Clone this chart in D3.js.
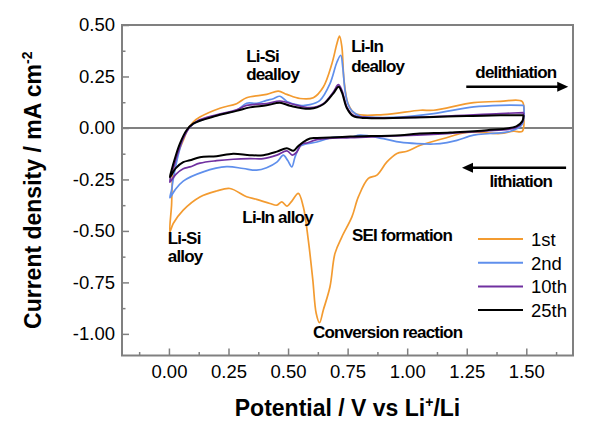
<!DOCTYPE html>
<html><head><meta charset="utf-8">
<script src="https://cdn.jsdelivr.net/npm/d3@7"></script>
<style>
html,body{margin:0;padding:0;background:#fff;}
svg{display:block;font-family:"Liberation Sans",Arial,Helvetica,sans-serif;}
</style></head>
<body><svg id="chart" width="607" height="435"></svg>
<script>
// ---- data: [potential (V), current density (mA cm^-2)] ----
const cycleNames = ["1st", "2nd", "10th", "25th"];
const cycleColors = ["#F39B30", "#5F8FEC", "#7030A0", "#000000"];

const cycle1 = [
  [1.489,0.062],[1.483,-0.016],[1.447,-0.016],[1.391,-0.027],[1.251,-0.022],[1.153,-0.051],
  [1.055,-0.084],[0.999,-0.113],[0.957,-0.124],[0.915,-0.165],[0.873,-0.229],[0.837,-0.245],
  [0.795,-0.335],[0.768,-0.432],[0.726,-0.529],[0.697,-0.609],[0.676,-0.771],[0.648,-0.884],
  [0.632,-0.946],[0.618,-0.900],[0.604,-0.739],[0.585,-0.545],[0.564,-0.383],[0.543,-0.318],
  [0.516,-0.355],[0.495,-0.380],[0.474,-0.359],[0.453,-0.375],[0.424,-0.367],[0.368,-0.347],
  [0.326,-0.334],[0.256,-0.294],[0.200,-0.306],[0.130,-0.335],[0.060,-0.399],[0.018,-0.464],
  [0.004,-0.504],
  [0.011,-0.375],[0.018,-0.205],[0.039,-0.120],[0.060,-0.060],[0.081,-0.003],[0.102,0.029],
  [0.130,0.053],[0.214,0.096],[0.284,0.118],[0.326,0.147],[0.410,0.163],[0.459,0.179],
  [0.495,0.163],[0.550,0.143],[0.606,0.147],[0.648,0.199],[0.684,0.312],[0.705,0.409],
  [0.716,0.446],[0.726,0.393],[0.735,0.231],[0.753,0.115],[0.782,0.070],[0.900,0.065],
  [1.055,0.086],[1.111,0.086],[1.279,0.123],[1.391,0.129],[1.482,0.129],[1.489,0.062]
];

const cycle2 = [
  [1.489,0.110],[1.483,0.018],[1.433,-0.016],[1.349,-0.027],[1.279,-0.035],[1.209,-0.060],
  [1.167,-0.071],[1.111,-0.078],[1.041,-0.076],[0.971,-0.069],[0.900,-0.052],[0.803,-0.035],
  [0.761,-0.045],[0.690,-0.045],[0.621,-0.068],[0.571,-0.079],[0.550,-0.089],[0.529,-0.142],
  [0.516,-0.189],[0.498,-0.157],[0.480,-0.132],[0.453,-0.166],[0.410,-0.193],[0.368,-0.205],
  [0.312,-0.197],[0.242,-0.188],[0.144,-0.213],[0.060,-0.258],[0.025,-0.302],[0.004,-0.339],
  [0.011,-0.302],[0.018,-0.249],[0.039,-0.132],[0.060,-0.051],[0.088,0.005],[0.116,0.029],
  [0.200,0.062],[0.284,0.086],[0.326,0.120],[0.368,0.120],[0.410,0.134],[0.438,0.142],
  [0.466,0.154],[0.495,0.129],[0.550,0.110],[0.592,0.113],[0.634,0.134],[0.676,0.215],
  [0.705,0.319],[0.721,0.353],[0.730,0.290],[0.739,0.183],[0.752,0.115],[0.768,0.083],
  [0.803,0.057],[0.831,0.053],[0.971,0.053],[1.111,0.070],[1.279,0.102],[1.391,0.110],
  [1.489,0.110]
];

const cycle10 = [
  [1.489,0.074],[1.483,0.028],[1.458,0.002],[1.321,-0.015],[1.181,-0.026],[1.041,-0.035],
  [0.900,-0.041],[0.761,-0.047],[0.621,-0.057],[0.579,-0.073],[0.558,-0.077],[0.537,-0.116],
  [0.519,-0.132],[0.495,-0.111],[0.453,-0.132],[0.396,-0.149],[0.340,-0.149],[0.270,-0.152],
  [0.200,-0.159],[0.130,-0.171],[0.088,-0.189],[0.060,-0.198],[0.029,-0.225],[0.004,-0.263],
  [0.008,-0.234],[0.018,-0.197],[0.039,-0.116],[0.060,-0.051],[0.088,0.005],[0.116,0.032],
  [0.200,0.064],[0.284,0.088],[0.326,0.110],[0.410,0.118],[0.466,0.131],[0.522,0.115],
  [0.592,0.099],[0.648,0.118],[0.690,0.175],[0.711,0.210],[0.726,0.183],[0.747,0.102],
  [0.774,0.062],[0.845,0.050],[1.055,0.053],[1.391,0.070],[1.489,0.074]
];

const cycle25 = [
  [1.489,0.062],[1.483,0.032],[1.458,0.008],[1.335,-0.011],[1.181,-0.022],[1.041,-0.028],
  [0.971,-0.035],[0.761,-0.042],[0.621,-0.049],[0.592,-0.051],[0.564,-0.068],[0.542,-0.089],
  [0.522,-0.111],[0.495,-0.098],[0.453,-0.115],[0.396,-0.132],[0.340,-0.132],[0.270,-0.125],
  [0.200,-0.137],[0.130,-0.142],[0.088,-0.157],[0.060,-0.166],[0.029,-0.195],[0.004,-0.239],
  [0.011,-0.205],[0.025,-0.148],[0.046,-0.076],[0.074,-0.011],[0.102,0.021],[0.200,0.059],
  [0.284,0.083],[0.340,0.100],[0.410,0.110],[0.466,0.122],[0.508,0.108],[0.592,0.093],
  [0.648,0.115],[0.690,0.168],[0.712,0.200],[0.726,0.173],[0.747,0.096],[0.774,0.057],
  [0.831,0.048],[1.111,0.053],[1.391,0.062],[1.489,0.062]
];

const xTicks = [0, 0.25, 0.5, 0.75, 1.0, 1.25, 1.5];
const xMinorTicks = [-0.125, 0.125, 0.375, 0.625, 0.875, 1.125, 1.375, 1.625];
const yTicks = [0.5, 0.25, 0, -0.25, -0.5, -0.75, -1.0];
const yMinorTicks = [0.375, 0.125, -0.125, -0.375, -0.625, -0.875];

// annotation text: [label, x (V), y (mA cm^-2)]
const annotations = [
  ["Li-Si", 0.324, 0.322], ["dealloy", 0.324, 0.235],
  ["Li-In", 0.765, 0.370], ["dealloy", 0.765, 0.273],
  ["delithiation", 1.286, 0.244], ["lithiation", 1.345, -0.285],
  ["Li-Si", -0.005, -0.564], ["alloy", -0.005, -0.651],
  ["Li-In alloy", 0.308, -0.460],
  ["SEI formation", 0.768, -0.548],
  ["Conversion reaction", 0.605, -1.020]
];
// arrows: [x from, x to, y]
const arrows = [[1.248, 1.676, 0.200], [1.667, 1.230, -0.193]];

// ---- chart ----
const svg = d3.select("#chart");
const x = d3.scaleLinear().domain([-0.197, 1.696]).range([122, 573]);
const y = d3.scaleLinear().domain([-1.105, 0.5]).range([355.5, 25]);
const gray = "#808080";
const fmt = d => d.toFixed(2);

// zero line
svg.append("line").attr("x1", x.range()[0]).attr("x2", x.range()[1])
  .attr("y1", y(0)).attr("y2", y(0)).attr("stroke", gray).attr("stroke-width", 2);

// axes
const xAxis = svg.append("g").attr("transform", `translate(0,${y.range()[0]})`)
  .call(d3.axisBottom(x).tickValues(xTicks).tickFormat(fmt).tickSize(-7).tickPadding(9));
const xMinor = svg.append("g").attr("transform", `translate(0,${y.range()[0]})`)
  .call(d3.axisBottom(x).tickValues(xMinorTicks).tickFormat("").tickSize(-3.5));
const yAxis = svg.append("g").attr("transform", `translate(${x.range()[0]},0)`)
  .call(d3.axisLeft(y).tickValues(yTicks).tickFormat(fmt).tickSize(-7).tickPadding(7));
const yMinor = svg.append("g").attr("transform", `translate(${x.range()[0]},0)`)
  .call(d3.axisLeft(y).tickValues(yMinorTicks).tickFormat("").tickSize(-3.5));
[xAxis, xMinor, yAxis, yMinor].forEach(g => {
  g.select(".domain").remove();
  g.selectAll(".tick line").attr("stroke", gray).attr("stroke-width", 1.5);
  g.selectAll("text").attr("fill", "#000").style("font-size", "18.5px")
    .style("font-family", '"Liberation Sans",Arial,sans-serif');
});

// frame
svg.append("rect").attr("x", x.range()[0]).attr("y", y.range()[1])
  .attr("width", x.range()[1] - x.range()[0]).attr("height", y.range()[0] - y.range()[1])
  .attr("fill", "none").attr("stroke", gray).attr("stroke-width", 2);

// curves
const line = d3.line().x(d => x(d[0])).y(d => y(d[1])).curve(d3.curveCatmullRom.alpha(0.5));
const cycles = [cycle1, cycle2, cycle10, cycle25];
cycles.forEach((c, i) => {
  svg.append("path").datum(c).attr("d", line).attr("fill", "none")
    .attr("stroke", cycleColors[i]).attr("stroke-width", i === 3 ? 2 : 1.7)
    .attr("stroke-linejoin", "round");
});

// annotations
svg.selectAll("text.ann").data(annotations).join("text").attr("class", "ann")
  .attr("x", d => x(d[1])).attr("y", d => y(d[2])).text(d => d[0])
  .style("font-size", "17px").style("font-weight", "bold").style("letter-spacing", "-0.8px")
  .attr("fill", "#000");

// arrows
arrows.forEach(a => {
  const x1 = x(a[0]), x2 = x(a[1]), yy = y(a[2]);
  const dir = Math.sign(x2 - x1);
  svg.append("line").attr("x1", x1).attr("x2", x2 - dir * 8).attr("y1", yy).attr("y2", yy)
    .attr("stroke", "#000").attr("stroke-width", 2.5);
  svg.append("path").attr("d", `M${x2},${yy}L${x2 - dir * 11},${yy - 5}L${x2 - dir * 11},${yy + 5}Z`)
    .attr("fill", "#000");
});

// legend
const legX = 478, legY = 239, legStep = 23.7;
cycleNames.forEach((n, i) => {
  const yy = legY + i * legStep;
  svg.append("line").attr("x1", legX).attr("x2", legX + 45).attr("y1", yy).attr("y2", yy)
    .attr("stroke", cycleColors[i]).attr("stroke-width", 2);
  svg.append("text").attr("x", legX + 53).attr("y", yy + 7).text(n)
    .style("font-size", "18.5px").attr("fill", "#000");
});

// axis titles
const xt = svg.append("text").attr("x", (x.range()[0] + x.range()[1]) / 2).attr("y", 416)
  .attr("text-anchor", "middle").style("font-size", "23px").style("font-weight", "bold");
xt.append("tspan").text("Potential / V vs Li");
xt.append("tspan").text("+").attr("dy", -9).style("font-size", "14px");
xt.append("tspan").text("/Li").attr("dy", 9);

const yt = svg.append("text").attr("transform", `translate(41,${(y.range()[0] + y.range()[1]) / 2}) rotate(-90)`)
  .attr("text-anchor", "middle").style("font-size", "23px").style("font-weight", "bold");
yt.append("tspan").text("Current density / mA cm");
yt.append("tspan").text("-2").attr("dy", -9).style("font-size", "14px");
</script></body></html>
